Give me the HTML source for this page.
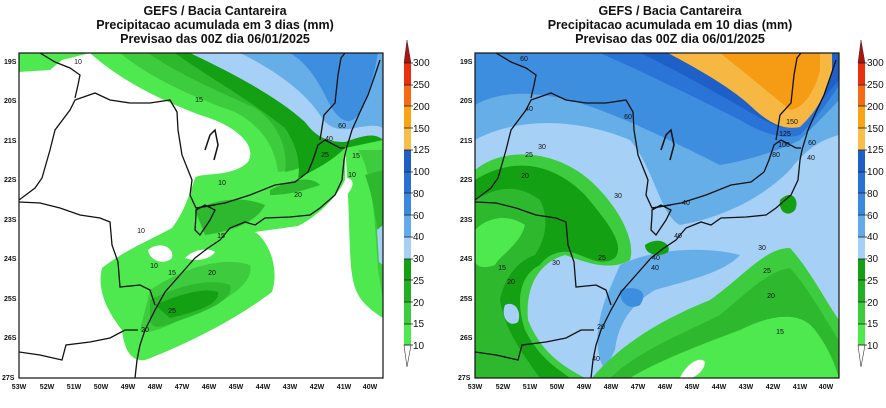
<!DOCTYPE html>
<html><head><meta charset="utf-8"><style>
body{margin:0;background:#fff;}
svg{display:block;font-family:"Liberation Sans",sans-serif;}
.t{font-weight:bold;font-size:12.5px;text-anchor:middle;fill:#111;}
.ax{font-size:7px;font-weight:bold;fill:#111;}
.cb{font-size:10px;fill:#111;}
.lb{font-size:7px;fill:#111;text-anchor:middle;}
.ln{fill:none;stroke:#111;stroke-width:1.3;}
</style></head><body>
<svg width="886" height="408" viewBox="0 0 886 408" xmlns="http://www.w3.org/2000/svg">
<defs>
<clipPath id="c1"><rect x="19" y="53" width="364" height="325"/></clipPath>
<clipPath id="c2"><rect x="475" y="53" width="364" height="325"/></clipPath>
<g id="geo">
 <path class="ln" d="M135,378 L137,360 140,345 145,330 155,310 165,292 180,275 195,258 208,248 220,240 230,228 245,222 255,225 265,218 290,217 310,215 320,208 335,195 342,180 344,160 346,150 352,130 360,112 368,95 375,75 380,60"/>
 <path class="ln" d="M19,200 L35,188 42,178 50,150 55,130 70,110 75,100 95,93 110,100 130,103 150,103 170,100 177,112 178,130 182,155 188,170 192,180 190,195 196,208 215,205"/>
 <path class="ln" d="M196,208 L225,203 250,195 275,185 295,182 308,172 313,160 318,145 325,140 340,148 345,148"/>
 <path class="ln" d="M320,140 L324,115 335,103 338,75 341,58 345,53"/>
 <path class="ln" d="M19,202 L40,203 60,208 80,215 100,218 110,222 112,245 118,262 120,287 140,285 150,290 155,305"/>
 <path class="ln" d="M19,352 L40,355 62,360 66,345 90,342 110,338 125,330 138,330"/>
 <path class="ln" d="M40,53 L55,62 70,68 80,75 78,85 75,98"/>
 <path class="ln" d="M196,210 L205,205 215,210 210,220 200,235 195,230 196,215Z"/>
 <path class="ln" d="M205,150 L210,135 215,130 218,145 214,160" style="stroke-width:1.5"/>
</g>
</defs>

<!-- LEFT MAP -->
<g clip-path="url(#c1)">
 <rect x="19" y="53" width="364" height="325" fill="#fff"/>
 <path fill="#4ee94e" d="M19,53 L19,72 L50,70 L62,60 L90,53 Z"/>
 <path fill="#4ee94e" d="M90,53 C120,80 160,100 200,115 C235,125 258,145 248,162 C232,178 200,172 195,178 C188,200 182,215 172,228 C150,240 125,250 102,268 C96,292 110,315 122,330 C124,348 130,362 145,360 C185,345 235,320 272,292 C280,268 268,240 255,232 L298,226 C320,215 338,195 345,180 L345,145 L383,135 L383,53 Z"/>
 <path fill="#4ee94e" d="M345,145 C355,280 340,290 383,318 L383,135 Z"/>
 <path fill="#3dcc3d" d="M120,53 C150,78 195,98 235,112 C265,128 275,150 278,172 C300,170 320,158 345,142 L383,135 L383,53 Z"/>
 <path fill="#2db82d" d="M148,53 C180,75 220,92 255,108 C280,125 288,150 285,172 C305,168 325,158 345,144 L383,138 L383,53 Z"/>
 <path fill="#13a013" d="M175,53 C205,75 250,100 285,128 C300,150 300,170 298,178 C320,168 335,158 345,148 L383,140 L383,53 Z"/>
 <path fill="#a6d0f5" d="M190,53 C230,72 275,95 305,122 C318,140 332,142 345,142 C362,136 375,132 383,140 L383,53 Z"/>
 <path fill="#66aee8" d="M240,53 C275,70 305,92 320,115 C330,132 345,130 355,128 C370,125 378,125 383,128 L383,53 Z"/>
 <path fill="#3e8ee0" d="M290,53 C310,65 320,85 330,105 C342,125 352,125 360,112 C370,92 375,70 378,53 Z"/>
 <path fill="#3dcc3d" d="M358,150 C372,170 375,220 378,270 L383,300 L383,150 Z M150,290 C180,270 220,255 250,265 C255,285 220,305 180,320 C160,330 145,335 140,330 Z"/>
 <path fill="#2db82d" d="M150,300 C180,285 210,278 230,285 C235,300 205,312 175,322 C160,328 150,330 150,318 Z M365,175 C375,200 378,240 383,260 L383,170 Z"/>
 <path fill="#13a013" d="M155,305 C185,292 205,288 218,292 C220,305 195,312 170,318 Z"/>
 <path fill="#2db82d" d="M195,210 C215,200 240,195 265,205 C255,225 225,232 205,235 Z M270,190 C290,180 310,175 320,185 C300,192 285,195 270,195 Z"/>
 <path fill="#a6d0f5" d="M377,230 L383,225 L383,265 L379,262 Z"/>
 <path fill="#fff" d="M148,250 C160,240 175,248 172,258 C165,265 150,262 148,250 Z M185,258 C195,248 210,248 215,252 C210,260 195,262 185,258 Z"/>
 <path fill="#fff" d="M345,178 C360,178 350,195 340,200 L345,180 Z"/>
 <use href="#geo"/>
 <text class="lb" x="78" y="64">10</text><text class="lb" x="199" y="102">15</text>
 <text class="lb" x="342" y="128">60</text><text class="lb" x="329" y="141">40</text>
 <text class="lb" x="325" y="157">25</text><text class="lb" x="356" y="158">15</text>
 <text class="lb" x="352" y="177">10</text><text class="lb" x="222" y="185">10</text>
 <text class="lb" x="298" y="197">20</text><text class="lb" x="221" y="238">15</text>
 <text class="lb" x="141" y="233">10</text><text class="lb" x="154" y="268">10</text>
 <text class="lb" x="172" y="275">15</text><text class="lb" x="212" y="275">20</text>
 <text class="lb" x="172" y="313">25</text><text class="lb" x="145" y="332">20</text>
</g>
<rect x="19" y="53" width="364" height="325" fill="none" stroke="#111" stroke-width="1.2"/>

<!-- RIGHT MAP -->
<g clip-path="url(#c2)">
 <rect x="475" y="53" width="364" height="325" fill="#a6d0f5"/>
 <path fill="#66aee8" d="M475,53 L475,140 C510,120 570,115 630,140 C655,170 660,215 680,225 C720,218 760,200 790,170 C805,150 820,140 839,135 L839,53 Z"/>
 <path fill="#66aee8" d="M620,265 C650,250 700,245 740,255 C725,272 690,280 655,290 C630,305 618,325 615,350 L605,370 C595,355 595,330 605,300 Z"/>
 <path fill="#3e8ee0" d="M475,53 L475,105 C510,85 560,95 600,110 C640,125 690,150 720,165 C750,160 780,150 800,140 C815,125 830,110 839,100 L839,53 Z"/>
 <path fill="#3e8ee0" d="M620,290 C635,285 650,290 640,305 C630,310 620,305 620,290 Z"/>
 <path fill="#2a74d8" d="M600,53 C650,75 700,100 740,120 C765,135 785,140 800,135 C815,120 830,100 839,85 L839,53 Z"/>
 <path fill="#1e60c8" d="M640,53 C680,72 720,95 755,115 C775,128 790,130 800,127 C815,110 828,92 839,80 L839,53 Z"/>
 <path fill="#f7b843" d="M668,53 C700,70 735,90 755,110 C772,125 785,130 800,127 C818,110 828,90 832,72 L832,53 Z"/>
 <path fill="#f59b14" d="M720,53 C742,70 768,92 790,110 C805,108 815,90 820,70 L820,53 Z"/>
 <path fill="#1e60c8" d="M832,53 L839,53 L839,75 L832,75 Z"/>
 <path fill="#3dcc3d" d="M475,170 C505,145 560,150 595,185 C625,215 635,245 630,260 C610,272 585,262 565,255 C540,262 525,285 528,320 C540,350 560,365 585,378 L475,378 Z"/>
 <path fill="#13a013" d="M475,180 C510,158 550,160 585,195 C610,225 625,245 615,258 C600,268 585,255 570,252 C555,250 545,258 540,265 C520,275 515,300 525,330 C540,360 560,370 570,378 L475,378 Z"/>
 <path fill="#2db82d" d="M475,200 C500,185 520,185 540,200 C550,220 545,240 535,255 C520,260 505,275 500,300 C505,330 520,350 540,378 L475,378 Z"/>
 <path fill="#4ee94e" d="M475,230 C490,215 510,215 525,225 C520,245 500,255 495,265 C480,270 475,265 475,260 Z"/>
 <path fill="#a6d0f5" d="M505,305 C515,300 522,312 518,322 C510,328 500,318 505,305 Z"/>
 <path fill="#13a013" d="M645,245 C660,235 672,245 668,252 C660,258 645,255 645,245 Z M780,200 C792,188 800,200 795,210 C788,218 778,212 780,200 Z"/>
 <path fill="#3dcc3d" d="M592,378 C620,345 660,320 710,300 C745,275 765,248 790,248 C810,270 825,300 839,320 L839,378 Z"/>
 <path fill="#2db82d" d="M610,378 C640,350 680,335 720,315 C750,290 770,270 790,268 C810,290 825,320 839,340 L839,378 Z"/>
 <path fill="#4ee94e" d="M630,378 C660,360 700,345 740,330 C770,315 800,310 815,330 C830,350 835,365 839,378 Z"/>
 <path fill="#fff" d="M680,378 C685,365 700,355 705,362 C705,370 695,378 690,378 Z"/>
 <use href="#geo" transform="translate(456,0)"/>
 <text class="lb" x="524" y="61">60</text><text class="lb" x="529" y="111">40</text>
 <text class="lb" x="628" y="119">60</text><text class="lb" x="542" y="149">30</text>
 <text class="lb" x="529" y="157">25</text><text class="lb" x="525" y="178">20</text>
 <text class="lb" x="618" y="198">30</text><text class="lb" x="686" y="205">40</text>
 <text class="lb" x="678" y="238">40</text><text class="lb" x="656" y="260">40</text>
 <text class="lb" x="655" y="270">40</text><text class="lb" x="602" y="260">25</text>
 <text class="lb" x="556" y="265">30</text><text class="lb" x="502" y="270">15</text>
 <text class="lb" x="511" y="284">20</text><text class="lb" x="601" y="329">20</text>
 <text class="lb" x="596" y="361">40</text><text class="lb" x="792" y="124">150</text>
 <text class="lb" x="785" y="136">125</text><text class="lb" x="784" y="147">100</text>
 <text class="lb" x="776" y="157">80</text><text class="lb" x="812" y="145">60</text>
 <text class="lb" x="811" y="160">40</text><text class="lb" x="762" y="250">30</text>
 <text class="lb" x="767" y="273">25</text><text class="lb" x="771" y="298">20</text>
 <text class="lb" x="780" y="334">15</text>
</g>
<rect x="475" y="53" width="364" height="325" fill="none" stroke="#111" stroke-width="1.2"/>

<!-- titles -->
<text class="t" x="215" y="15">GEFS / Bacia Cantareira</text>
<text class="t" x="215" y="29">Precipitacao acumulada em 3 dias (mm)</text>
<text class="t" x="215" y="43">Previsao das 00Z dia 06/01/2025</text>
<text class="t" x="670" y="15">GEFS / Bacia Cantareira</text>
<text class="t" x="670" y="29">Precipitacao acumulada em 10 dias (mm)</text>
<text class="t" x="670" y="43">Previsao das 00Z dia 06/01/2025</text>

<!-- axes labels -->
<g class="ax">
 <text x="4" y="64">19S</text><text x="4" y="103">20S</text><text x="4" y="143">21S</text><text x="4" y="182">22S</text><text x="4" y="222">23S</text><text x="4" y="261">24S</text><text x="4" y="301">25S</text><text x="4" y="340">26S</text><text x="2" y="380">27S</text>
 <text x="460" y="64">19S</text><text x="460" y="103">20S</text><text x="460" y="143">21S</text><text x="460" y="182">22S</text><text x="460" y="222">23S</text><text x="460" y="261">24S</text><text x="460" y="301">25S</text><text x="460" y="340">26S</text><text x="458" y="380">27S</text>
</g>
<g class="ax" text-anchor="middle">
 <text x="19" y="389">53W</text><text x="47" y="389">52W</text><text x="74" y="389">51W</text><text x="101" y="389">50W</text><text x="128" y="389">49W</text><text x="155" y="389">48W</text><text x="182" y="389">47W</text><text x="209" y="389">46W</text><text x="236" y="389">45W</text><text x="263" y="389">44W</text><text x="290" y="389">43W</text><text x="317" y="389">42W</text><text x="344" y="389">41W</text><text x="370" y="389">40W</text>
 <text x="475" y="389">53W</text><text x="503" y="389">52W</text><text x="530" y="389">51W</text><text x="557" y="389">50W</text><text x="584" y="389">49W</text><text x="611" y="389">48W</text><text x="638" y="389">47W</text><text x="665" y="389">46W</text><text x="692" y="389">45W</text><text x="719" y="389">44W</text><text x="746" y="389">43W</text><text x="773" y="389">42W</text><text x="800" y="389">41W</text><text x="826" y="389">40W</text>
</g>

<!-- colorbars -->
<g id="cbar">
 <path d="M407,40 L404,63 L411,63 Z" fill="#b01010" stroke="#333" stroke-width="0.5"/>
 <rect x="404" y="63" width="7" height="22" fill="#e8300e"/>
 <rect x="404" y="85" width="7" height="21" fill="#f56a12"/>
 <rect x="404" y="106" width="7" height="22" fill="#f8a414"/>
 <rect x="404" y="128" width="7" height="22" fill="#f7be4a"/>
 <rect x="404" y="150" width="7" height="22" fill="#1e5fc6"/>
 <rect x="404" y="172" width="7" height="21" fill="#2670d6"/>
 <rect x="404" y="193" width="7" height="22" fill="#3a88e0"/>
 <rect x="404" y="215" width="7" height="22" fill="#62aaea"/>
 <rect x="404" y="237" width="7" height="22" fill="#a6d0f5"/>
 <rect x="404" y="259" width="7" height="21" fill="#13a013"/>
 <rect x="404" y="280" width="7" height="22" fill="#24ae24"/>
 <rect x="404" y="302" width="7" height="22" fill="#3dcc3d"/>
 <rect x="404" y="324" width="7" height="21" fill="#4ee94e"/>
 <path d="M404,345 L411,345 L407,367 Z" fill="#fff" stroke="#333" stroke-width="0.6"/>
 <g stroke="#222" stroke-width="0.8">
  <line x1="404" x2="413" y1="63" y2="63"/><line x1="404" x2="413" y1="85" y2="85"/><line x1="404" x2="413" y1="106" y2="106"/><line x1="404" x2="413" y1="128" y2="128"/><line x1="404" x2="413" y1="150" y2="150"/><line x1="404" x2="413" y1="172" y2="172"/><line x1="404" x2="413" y1="193" y2="193"/><line x1="404" x2="413" y1="215" y2="215"/><line x1="404" x2="413" y1="237" y2="237"/><line x1="404" x2="413" y1="259" y2="259"/><line x1="404" x2="413" y1="280" y2="280"/><line x1="404" x2="413" y1="302" y2="302"/><line x1="404" x2="413" y1="324" y2="324"/><line x1="404" x2="413" y1="345" y2="345"/>
 </g>
 <g class="cb">
  <text x="413" y="66">300</text><text x="413" y="88">250</text><text x="413" y="110">200</text><text x="413" y="132">150</text><text x="413" y="153">125</text><text x="413" y="175">100</text><text x="413" y="197">80</text><text x="413" y="219">60</text><text x="413" y="240">40</text><text x="413" y="262">30</text><text x="413" y="284">25</text><text x="413" y="306">20</text><text x="413" y="327">15</text><text x="413" y="349">10</text>
 </g>
</g>
<use href="#cbar" transform="translate(454,0)"/>
</svg>
</body></html>
